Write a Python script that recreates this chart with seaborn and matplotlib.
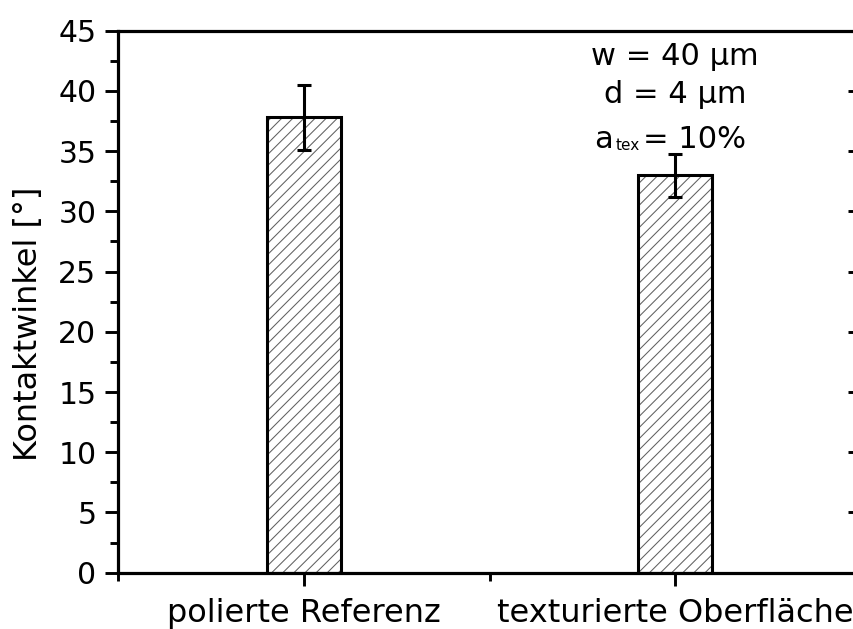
import matplotlib
matplotlib.use("Agg")
import matplotlib.pyplot as plt
from matplotlib.ticker import FixedLocator, MultipleLocator
import seaborn as sns
import pandas as pd

# Contact angle measurements (mean and standard deviation)
categories = ["polierte Referenz", "texturierte Oberfläche"]
contact_angle = [37.8, 33.0]
contact_angle_err = [2.7, 1.8]
y_ticks = [0, 5, 10, 15, 20, 25, 30, 35, 40, 45]
param_lines = ["w = 40 µm", "d = 4 µm"]
a_tex_parts = ["a", "tex", "= 10%"]

sns.set_theme(style="ticks")
plt.rcParams["font.family"] = ["DejaVu Sans"]
plt.rcParams.update({
    "text.color": "black",
    "axes.labelcolor": "black",
    "xtick.color": "black",
    "ytick.color": "black",
    "axes.edgecolor": "black",
    "hatch.linewidth": 0.75,
})

fig = plt.figure(figsize=(8.54, 6.29), dpi=100)
ax = fig.add_axes([0.1382, 0.0895, 0.870, 0.8617])

df = pd.DataFrame({"Probe": categories, "Kontaktwinkel": contact_angle})

# hatched fill of the bars
sns.barplot(data=df, x="Probe", y="Kontaktwinkel", ax=ax, width=0.2,
            color="white", saturation=1, edgecolor="#606060", linewidth=0,
            hatch="///", errorbar=None)
# black outline of the bars
sns.barplot(data=df, x="Probe", y="Kontaktwinkel", ax=ax, width=0.2,
            fill=False, color="black", linewidth=2.2, errorbar=None)

xpos = list(range(len(categories)))
ax.errorbar(xpos, contact_angle, yerr=contact_angle_err, fmt="none",
            ecolor="black", elinewidth=2.2, capsize=4.8, capthick=2.2, zorder=5)

ax.set_xlim(-0.5, 1.5)
ax.set_ylim(0, 45)
ax.set_yticks(y_ticks)
ax.yaxis.set_minor_locator(MultipleLocator(2.5))
ax.xaxis.set_minor_locator(FixedLocator([-0.5, 0.5, 1.5]))

ax.set_xlabel("")
ax.set_ylabel("Kontaktwinkel [°]", fontsize=23)
ax.yaxis.set_label_coords(-0.099, 0.46)

ax.tick_params(axis="both", which="major", direction="out", length=9.5, width=2.1)
ax.tick_params(axis="both", which="minor", direction="out", length=5.8, width=2.1)
ax.tick_params(axis="y", which="major", labelsize=21.5, pad=6)
ax.tick_params(axis="x", which="major", labelsize=23, pad=9)
ax.tick_params(top=False, right=False, which="both")

for side in ["left", "bottom", "top", "right"]:
    ax.spines[side].set_visible(True)
    ax.spines[side].set_linewidth(2.3)
    ax.spines[side].set_color("black")

# inward ticks on the right-hand axis
twin = ax.twinx()
twin.set_ylim(ax.get_ylim())
twin.set_yticks(y_ticks)
twin.yaxis.set_minor_locator(MultipleLocator(2.5))
twin.tick_params(axis="y", which="major", direction="in", length=9.5, width=2.1,
                 labelright=False)
twin.tick_params(axis="y", which="minor", direction="in", length=5.8, width=2.1)
for side in twin.spines:
    twin.spines[side].set_visible(False)

# texture parameters
ax.text(1.0, 42.15, param_lines[0], ha="center", va="baseline", fontsize=22)
ax.text(1.0, 39.0, param_lines[1], ha="center", va="baseline", fontsize=22)
rest = ax.text(0.913, 35.27, a_tex_parts[2], ha="left", va="baseline", fontsize=22)
sub = ax.annotate(a_tex_parts[1], xy=(0, 0), xycoords=rest, xytext=(-2.5, 1.0),
                  textcoords="offset points", ha="right", va="bottom", fontsize=11)
ax.annotate(a_tex_parts[0], xy=(0, 0), xycoords=(sub, rest), xytext=(-1.5, 0),
            textcoords="offset points", ha="right", va="bottom", fontsize=22)

fig.savefig("out.png", dpi=100)
